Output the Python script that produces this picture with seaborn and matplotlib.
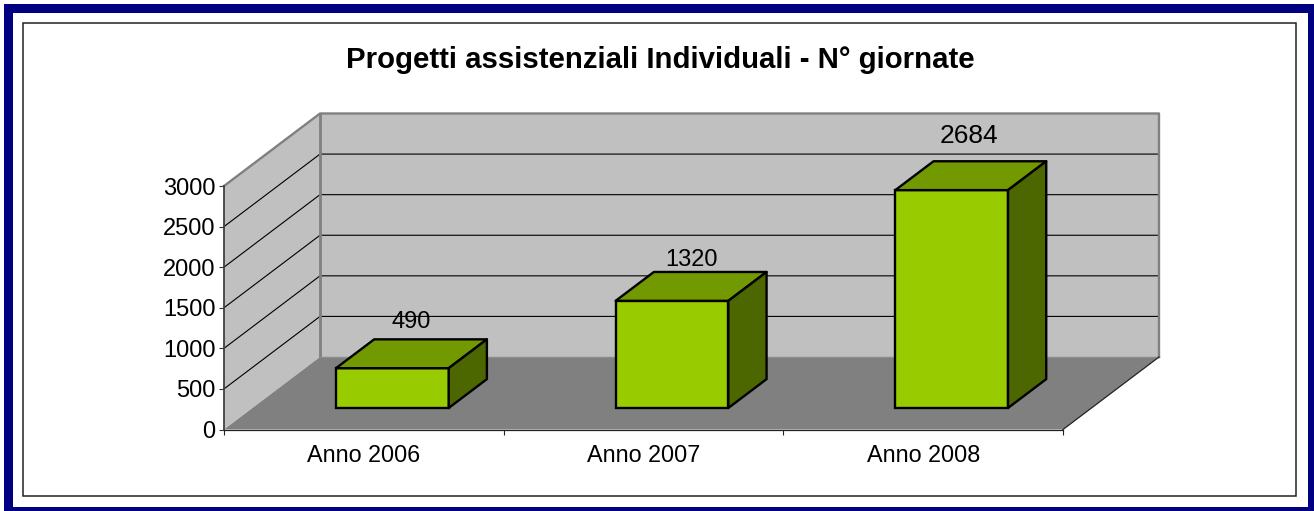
import matplotlib
matplotlib.use('Agg')
import matplotlib.pyplot as plt
from matplotlib.patches import Polygon, Rectangle
from matplotlib.transforms import Affine2D, IdentityTransform
import seaborn as sns

# Data
categories = ['Anno 2006', 'Anno 2007', 'Anno 2008']
values = [490, 1320, 2684]
y_ticks = [0, 500, 1000, 1500, 2000, 2500, 3000]
title = 'Progetti assistenziali Individuali - N° giornate'

W, H = 1314, 511
DEPTH_X, DEPTH_Y = 96, 72.5   # pixels from front plane to back wall
BAR_D0, BAR_D1 = 0.297, 0.695  # where the bars sit in the depth

sns.set_theme(style='white')
plt.rcParams['font.family'] = ['Liberation Sans', 'DejaVu Sans']

fig = plt.figure(figsize=(W / 100, H / 100), dpi=100, facecolor='white')
ax = fig.add_axes([224 / W, (H - 429.5) / H, 839 / W, 243.5 / H])
ax.patch.set_alpha(0)

# Front face of the bars
sns.barplot(x=categories, y=values, width=0.403, color='#99CC00', saturation=1,
            edgecolor='black', linewidth=1.7, ax=ax, zorder=5)
bars = list(ax.patches)
ax.set_xlim(-0.5, 2.5)
ax.set_ylim(0, 3000)


def px(x, y, d=0):
    # data position plus a depth fraction -> display pixels
    a, b = ax.transData.transform((x, y))
    return a + d * DEPTH_X, b + d * DEPTH_Y


def face(points, **kw):
    kw.setdefault('joinstyle', 'round')
    p = Polygon([px(*q) for q in points], closed=True, transform=IdentityTransform(),
                clip_on=False, **kw)
    ax.add_artist(p)


def line(points, color, lw, zorder=2):
    xs, ys = zip(*[px(*q) for q in points])
    ax.plot(xs, ys, color=color, lw=lw, transform=IdentityTransform(), clip_on=False,
            zorder=zorder, solid_capstyle='projecting')


L, R = -0.5, 2.5
face([(L, 0, 1), (R, 0, 1), (R, 3000, 1), (L, 3000, 1)], facecolor='#C0C0C0', edgecolor='none', zorder=1)
face([(L, 0, 0), (L, 0, 1), (L, 3000, 1), (L, 3000, 0)], facecolor='#C0C0C0', edgecolor='none', zorder=1)
face([(L, 0, 0), (R, 0, 0), (R, 0, 1), (L, 0, 1)], facecolor='#808080', edgecolor='none', zorder=1.5)

# Gridlines run across the side wall and the back wall
for t in y_ticks[1:-1]:
    line([(L, t, 0), (L, t, 1), (R, t, 1)], 'black', 0.8)

# Wall edges
line([(L, 3000, 0), (L, 3000, 1), (R, 3000, 1), (R, 0, 1)], '#808080', 1.7, 3)
line([(L, 0, 1), (L, 3000, 1)], '#808080', 2.0, 3)
line([(L, 0, 1), (R, 0, 1)], '#8C8C8C', 1.0, 3)
line([(R, 0, 0), (R, 0, 1)], '#222222', 0.9, 3)

# Side and top of each bar, built from the seaborn bars
shift = Affine2D().translate(BAR_D0 * DEPTH_X, BAR_D0 * DEPTH_Y)
for bar in bars:
    x0, x1 = bar.get_x(), bar.get_x() + bar.get_width()
    h = bar.get_height()
    bar.set_transform(ax.transData + shift)
    bar.set_clip_on(False)
    style = dict(edgecolor='black', linewidth=1.7, zorder=5)
    face([(x0, h, BAR_D0), (x1, h, BAR_D0), (x1, h, BAR_D1), (x0, h, BAR_D1)],
         facecolor='#729900', **style)
    face([(x1, 0, BAR_D0), (x1, 0, BAR_D1), (x1, h, BAR_D1), (x1, h, BAR_D0)],
         facecolor='#4C6600', **style)

# Data labels above the bar tops
label_lift = [32, 26, 40]
label_nudge = [0, 0, -2]
label_size = [17, 17, 19]
for i, v in enumerate(values):
    a, b = px(i, v, (BAR_D0 + BAR_D1) / 2)
    ax.text(a + label_nudge[i], b + label_lift[i], str(v), transform=IdentityTransform(),
            ha='center', va='center', fontsize=label_size[i], color='black', zorder=6, clip_on=False)

# Axes
sns.despine(ax=ax, top=True, right=True)
ax.spines['left'].set_color('#404040')
ax.spines['left'].set_linewidth(1.3)
ax.spines['left'].set_zorder(4)
ax.spines['bottom'].set_color('#222222')
ax.spines['bottom'].set_linewidth(0.9)
ax.spines['bottom'].set_zorder(4)
ax.set_yticks(y_ticks)
ax.set_yticklabels([str(t) for t in y_ticks], fontsize=17, color='black')
ax.set_xticks([-0.5, 0.5, 1.5, 2.5])
ax.set_xticklabels([])
ax.set_xticks([0, 1, 2], categories, minor=True, color='black')
ax.tick_params(axis='y', length=3.6, width=0.8, color='#333333', pad=2.5, left=True)
ax.tick_params(axis='x', which='major', length=3.6, width=0.8, color='#222222', bottom=True)
ax.tick_params(axis='x', which='minor', length=0, pad=10.5, labelsize=16.8)


# Frames, in pixels from the top left
def frame(x0, y0, x1, y1, **kw):
    fig.add_artist(Rectangle((x0, H - y1), x1 - x0, y1 - y0, transform=IdentityTransform(), **kw))


frame(4, 4, W + 10, H + 10, facecolor='#000080', edgecolor='none', zorder=-5)
frame(13, 13, 1308, 507, facecolor='white', edgecolor='none', zorder=-4)
frame(22.5, 22.5, 1295.5, 495.5, facecolor='none', edgecolor='#222222', linewidth=1.1, zorder=-3)

fig.text(660 / W, (H - 60.5) / H, title, ha='center', va='center', fontsize=21.2,
         fontweight='bold', color='black')

fig.savefig('out.png', dpi=100)
